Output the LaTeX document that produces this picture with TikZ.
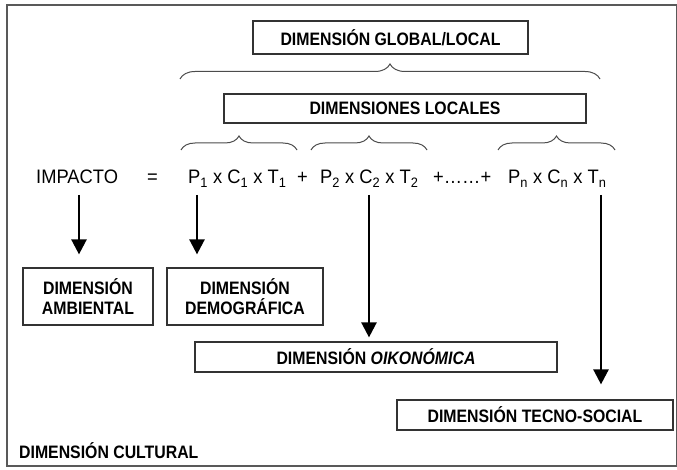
\documentclass[tikz,border=0pt]{standalone}
\usepackage{fontspec}
\setmainfont{Liberation Sans}
\newfontfamily\labelfont{Liberation Sans}[FakeStretch=0.88]
\newfontfamily\eqfont{Liberation Sans}[FakeStretch=0.94]
\usetikzlibrary{arrows.meta,decorations.pathreplacing}

\tikzset{
  dimbox/.style={draw=black!80, line width=1.2pt, inner sep=0pt, align=center,
    font=\labelfont\bfseries\fontsize{18}{20}\selectfont},
  dimtext/.style={inner sep=0pt, font=\labelfont\bfseries\fontsize{18}{20}\selectfont},
  eqtext/.style={anchor=base west, inner sep=0pt, font=\eqfont\fontsize{19.5}{21}\selectfont},
  arr/.style={line width=2.5pt, -{Triangle[width=15pt,length=15pt]}},
  llave/.style={decorate, decoration={brace, amplitude=#1}, line width=1pt, draw=black!70},
  llave/.default=15pt
}

\begin{document}
\begin{tikzpicture}[x=1pt,y=-1pt]
	\useasboundingbox (0,0) rectangle (677,470);
	% marco exterior
	\draw[draw=black!65, line width=1.5pt] (7,5) rectangle (676.5,466);

	\node[dimbox, minimum width=275pt, minimum height=33pt] (global) at (390.5,37.5) {DIMENSIÓN GLOBAL/LOCAL};
	\draw[llave] (180,79) -- (600,79);
	\node[dimbox, minimum width=362pt, minimum height=29pt] (locales) at (405,108.5) {DIMENSIONES LOCALES};
	\draw[llave=14pt] (181,150) -- (297,150);
	\draw[llave=14pt] (311,150) -- (427,150);
	\draw[llave=14pt] (498,150) -- (615,150);

	% ecuacion
	\node[eqtext] (impacto) at (36,184) {IMPACTO};
	\node[eqtext] (igual) at (147,184) {=};
	\node[eqtext] (g1) at (188,184) {P\textsubscript{1} x C\textsubscript{1} x T\textsubscript{1}};
	\node[eqtext] (mas) at (297,184) {+};
	\node[eqtext] (g2) at (320,184) {P\textsubscript{2} x C\textsubscript{2} x T\textsubscript{2}};
	\node[eqtext] (puntos) at (433,184) {+……+};
	\node[eqtext] (gn) at (508,184) {P\textsubscript{n} x C\textsubscript{n} x T\textsubscript{n}};

	% dimensiones
	\node[dimbox, minimum width=130pt, minimum height=57pt] (ambiental) at (88,296.5) {DIMENSIÓN\\AMBIENTAL};
	\node[dimbox, minimum width=156pt, minimum height=57pt] (demografica) at (245,296.5) {DIMENSIÓN\\DEMOGRÁFICA};
	\node[dimbox, minimum width=362pt, minimum height=30pt] (oikonomica) at (376,357) {DIMENSIÓN \textit{OIKONÓMICA}};
	\node[dimbox, minimum width=276pt, minimum height=30pt] (tecno) at (535,415) {DIMENSIÓN TECNO-SOCIAL};
	\node[dimtext, anchor=west] (cultural) at (19,451) {DIMENSIÓN CULTURAL};

	% flechas
	\coordinate (s1) at (79,195);
	\coordinate (s2) at (197,195);
	\coordinate (s3) at (369,195);
	\coordinate (s4) at (601,195);
	\draw[arr, shorten >=13pt] (s1) -- (s1 |- ambiental.north);
	\draw[arr, shorten >=13pt] (s2) -- (s2 |- demografica.north);
	\draw[arr, shorten >=4pt] (s3) -- (s3 |- oikonomica.north);
	\draw[arr, shorten >=15pt] (s4) -- (s4 |- tecno.north);
\end{tikzpicture}
\end{document}
